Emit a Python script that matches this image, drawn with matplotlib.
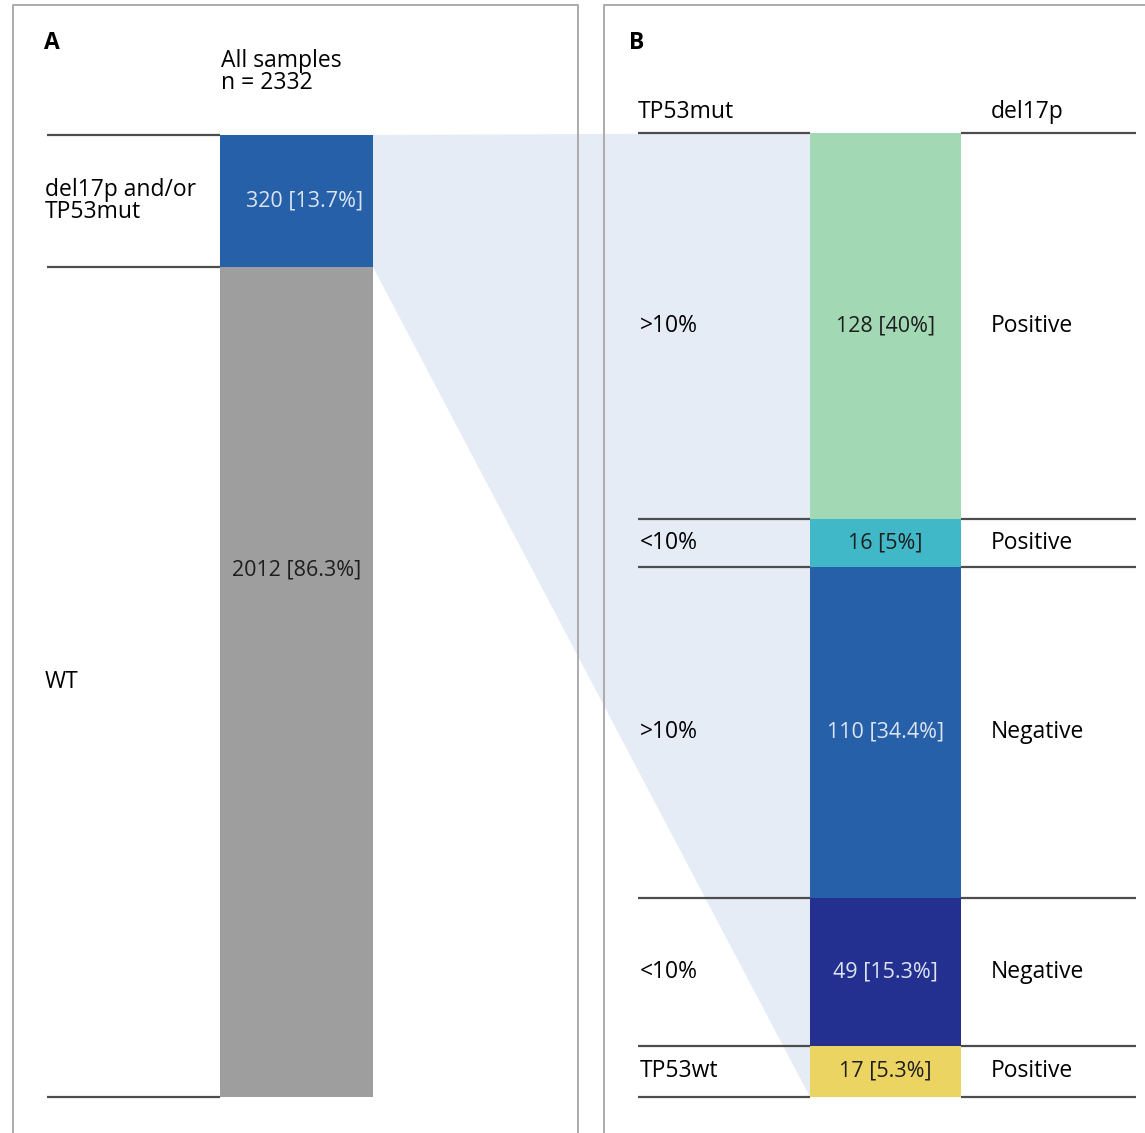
import numpy as np
import matplotlib.pyplot as plt
import matplotlib.transforms as mtransforms
from matplotlib.patches import Polygon

plt.rcParams['font.family'] = ['Open Sans', 'DejaVu Sans']

######## panel A: all samples, split by del17p / TP53 status
a_counts = [320, 2012]
a_labels = ['320 [13.7%]', '2012 [86.3%]']
a_groups = ['del17p and/or\nTP53mut', 'WT']
a_colors = ['#2560a9', '#9e9e9e']
a_text_colors = ['#dbe4f0', '#1e1e1e']

######## panel B: the 320 del17p and/or TP53mut cases
b_counts = [128, 16, 110, 49, 17]
b_labels = ['128 [40%]', '16 [5%]', '110 [34.4%]', '49 [15.3%]', '17 [5.3%]']
b_tp53 = ['>10%', '<10%', '>10%', '<10%', 'TP53wt']
b_del17p = ['Positive', 'Positive', 'Negative', 'Negative', 'Positive']
b_colors = ['#a2d9b4', '#40b8c7', '#2560a9', '#23308f', '#ebd462']
b_text_colors = ['#1e1e1e', '#1e1e1e', '#dbe4f0', '#dbe4f0', '#1e1e1e']

W, H = 1145, 1133
fig = plt.figure(figsize=(W / 100, H / 100), dpi=100)

def px_axes(x0, y0, x1, y1):
    return fig.add_axes([x0 / W, 1 - y1 / H, (x1 - x0) / W, (y1 - y0) / H])

# background axes in pixel units for frames, headers and the wedge
bg = fig.add_axes([0, 0, 1, 1])
bg.set_xlim(0, W)
bg.set_ylim(H, 0)
bg.axis('off')

axA = px_axes(220, 135, 373, 1097)
axB = px_axes(810, 133, 961, 1097)
for ax, counts in ((axA, a_counts), (axB, b_counts)):
    ax.set_xlim(-0.5, 0.5)
    ax.set_ylim(sum(counts), 0)
    ax.axis('off')
    ax.set_zorder(2)

fs = 16.5      # category text
fsVal = 15.5   # numbers inside the bars
lineCol = '#4d4d4d'
frameCol = '#ababab'

# stacked bars
def stack(ax, counts, colors):
    bottoms = np.concatenate([[0], np.cumsum(counts)[:-1]])
    ax.bar(0, counts, bottom=bottoms, width=1.0, color=colors, linewidth=0)
    return bottoms

botA = stack(axA, a_counts, a_colors)
botB = stack(axB, b_counts, b_colors)

trA = mtransforms.blended_transform_factory(bg.transData, axA.transData)
trB = mtransforms.blended_transform_factory(bg.transData, axB.transData)

# separator lines
for y in np.concatenate([[0], np.cumsum(a_counts)]):
    bg.plot([47, 220], [y, y], color=lineCol, lw=1.6, transform=trA, solid_capstyle='butt', zorder=3)
for y in np.concatenate([[0], np.cumsum(b_counts)]):
    bg.plot([638, 810], [y, y], color=lineCol, lw=1.6, transform=trB, solid_capstyle='butt', zorder=3)
    bg.plot([961, 1136], [y, y], color=lineCol, lw=1.6, transform=trB, solid_capstyle='butt', zorder=3)

# wedge from the mutated segment in A to the whole bar in B
def to_bg(ax, x, y):
    return bg.transData.inverted().transform(ax.transData.transform((x, y)))

wedge = [to_bg(axA, 0.5, 0), to_bg(axB, -0.5, 0),
         to_bg(axB, -0.5, sum(b_counts)), to_bg(axA, 0.5, a_counts[0])]
bg.add_patch(Polygon(wedge, closed=True, facecolor='#e6ecf5', edgecolor='none', zorder=1))

# panel frames
bg.plot([13, 13, 578, 578], [H + 5, 5, 5, H + 5], color=frameCol, lw=1.4, zorder=4, clip_on=False)
bg.plot([604, 604, W + 5], [H + 5, 5, 5], color=frameCol, lw=1.4, zorder=4, clip_on=False)

bg.text(44, 43, 'A', fontsize=16.5, fontweight='bold', va='center', ha='left')
bg.text(629, 43, 'B', fontsize=16.5, fontweight='bold', va='center', ha='left')
bg.text(221, 72, 'All samples\nn = 2332', fontsize=fs, va='center', ha='left', linespacing=0.85)
bg.text(638, 112, 'TP53mut', fontsize=fs, va='center', ha='left')
bg.text(991, 112, 'del17p', fontsize=fs, va='center', ha='left')

# panel A labels
a_pos = [0.5, 0.365]
a_shift = [0.05, 0.0]
for i in range(len(a_counts)):
    yc = botA[i] + a_counts[i] * a_pos[i]
    axA.text(a_shift[i], yc, a_labels[i], fontsize=fsVal, color=a_text_colors[i], ha='center', va='center')
    bg.text(45, botA[i] + a_counts[i] / 2, a_groups[i], fontsize=fs, ha='left', va='center',
            transform=trA, linespacing=0.9)

# panel B labels
for i in range(len(b_counts)):
    yc = botB[i] + b_counts[i] / 2
    axB.text(0, yc, b_labels[i], fontsize=fsVal, color=b_text_colors[i], ha='center', va='center')
    bg.text(640, yc, b_tp53[i], fontsize=fs, ha='left', va='center', transform=trB)
    bg.text(991, yc, b_del17p[i], fontsize=fs, ha='left', va='center', transform=trB)

fig.savefig('out.png', dpi=100)
